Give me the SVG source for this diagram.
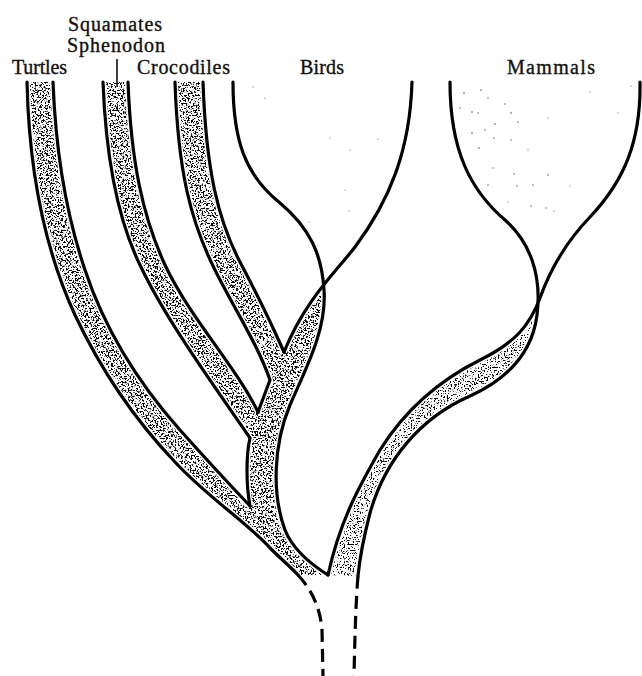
<svg xmlns="http://www.w3.org/2000/svg" width="642" height="676" viewBox="0 0 642 676">
<style>
  .lbl{font-family:"Liberation Serif","DejaVu Serif",serif;font-size:20px;fill:#111;stroke:#111;stroke-width:0.35;}
  .ln{fill:none;stroke:#000;stroke-width:3.2;stroke-linecap:round;stroke-linejoin:miter;}
  .halo{fill:none;stroke:#fff;stroke-width:6.2;stroke-linecap:butt;}
  .dash{fill:none;stroke:#000;stroke-width:3.2;stroke-dasharray:13 7;}
  .fd{fill:#555;}
</style>
<defs>
  <filter id="stip" filterUnits="userSpaceOnUse" x="0" y="0" width="642" height="676" color-interpolation-filters="sRGB">
    <feTurbulence type="fractalNoise" baseFrequency="0.6" numOctaves="2" seed="7" result="n"/>
    <feColorMatrix in="n" type="matrix" values="0 0 0 0 0  0 0 0 0 0  0 0 0 0 0  13 0 0 0 -6.7" result="d"/>
    <feComposite in="d" in2="SourceGraphic" operator="in"/>
  </filter>
  <filter id="stipL" filterUnits="userSpaceOnUse" x="0" y="0" width="642" height="676" color-interpolation-filters="sRGB">
    <feTurbulence type="fractalNoise" baseFrequency="0.7" numOctaves="2" seed="11" result="n"/>
    <feColorMatrix in="n" type="matrix" values="0 0 0 0 0  0 0 0 0 0  0 0 0 0 0  13 0 0 0 -7.3" result="d"/>
    <feComposite in="d" in2="SourceGraphic" operator="in"/>
  </filter>
  <path id="TL" d="M27,82 C29,170 45,250 75,315 C100,368 135,420 175,462 C205,495 250,525 270,548 C282,560 292,568 298,575"/>
  <path id="TR" d="M53,82 C56,160 68,220 85,270 C105,330 140,385 180,430 C205,458 230,485 250,506"/>
  <path id="SL" d="M103,82 C106,160 118,220 140,265 C165,318 210,380 250,438 C246,455 246,485 250,506"/>
  <path id="SR" d="M128,82 C131,160 142,215 165,265 C190,318 235,365 258,412"/>
  <path id="CL" d="M175,82 C178,170 190,220 215,270 C235,310 258,345 270,380 L258,412"/>
  <path id="CR" d="M203,82 C206,170 218,220 240,262 C258,296 272,325 284,352"/>
  <path id="BL" d="M233,82 C233,140 245,175 280,203 C310,228 322,255 324,290 C327,330 305,370 290,405 C273,445 272,495 285,530 C293,550 312,565 328,575"/>
  <path id="BR" d="M412,82 C410,150 390,200 355,247 C335,273 305,300 284,352"/>
  <path id="ML" d="M450,82 C450,150 470,190 505,220 C530,242 542,275 537,315 C532,355 505,380 470,396 C420,418 385,460 370,513 C363,540 360,555 358,576"/>
  <path id="MR" d="M640,82 C641,140 625,180 590,217 C565,243 550,270 540,298 C530,325 515,343 480,360 C440,380 405,410 380,450 C360,485 340,520 328,575"/>
</defs>

<rect width="642" height="676" fill="#fff"/>

<g id="shading">
  <path filter="url(#stip)" fill="#000" d="M27,82 C29,170 45,250 75,315 C100,368 135,420 175,462 C205,495 250,525 270,548 C282,560 292,568 298,575 L328,575 C312,565 293,550 285,530 C272,495 273,445 290,405 C305,370 327,330 324,290 L320,290 C307,306 294.5,326 284,352 C272,325 258,296 240,262 C218,220 206,170 203,82 L175,82 C178,170 190,220 215,270 C235,310 258,345 270,380 L258,412 C235,365 190,318 165,265 C142,215 131,160 128,82 L103,82 C106,160 118,220 140,265 C165,318 210,380 250,438 C246,455 246,485 250,506 C230,485 205,458 180,430 C140,385 105,330 85,270 C68,220 56,160 53,82 Z"/>
  <path filter="url(#stipL)" fill="#000" d="M328,575 C340,520 360,485 380,450 C405,410 440,380 480,360 C515,343 530,325 540,298 L537,315 C532,355 505,380 470,396 C420,418 385,460 370,513 C363,540 360,555 358,576 Z"/>
  <g class="fd">
    <circle cx="464" cy="93" r="0.8"/><circle cx="481" cy="90" r="0.8"/><circle cx="488" cy="98" r="0.7"/>
    <circle cx="460" cy="108" r="0.7"/><circle cx="472" cy="112" r="0.8"/><circle cx="478" cy="113" r="0.7"/>
    <circle cx="505" cy="104" r="0.7"/><circle cx="511" cy="113" r="0.8"/><circle cx="495" cy="124" r="0.8"/>
    <circle cx="485" cy="130" r="0.7"/><circle cx="472" cy="133" r="0.8"/><circle cx="518" cy="122" r="0.7"/>
    <circle cx="494" cy="138" r="0.7"/><circle cx="479" cy="148" r="0.8"/><circle cx="511" cy="140" r="0.7"/>
    <circle cx="493" cy="168" r="0.7"/><circle cx="514" cy="174" r="0.7"/><circle cx="517" cy="186" r="0.7"/>
    <circle cx="488" cy="185" r="0.7"/><circle cx="533" cy="185" r="0.7"/><circle cx="548" cy="175" r="0.8"/>
    <circle cx="531" cy="206" r="0.7"/><circle cx="546" cy="208" r="0.7"/><circle cx="554" cy="211" r="0.6"/>
    <circle cx="508" cy="202" r="0.6"/><circle cx="528" cy="150" r="0.6"/><circle cx="548" cy="118" r="0.6"/>
    <circle cx="590" cy="92" r="0.6"/><circle cx="618" cy="113" r="0.6"/><circle cx="631" cy="86" r="0.6"/>
    <circle cx="570" cy="186" r="0.6"/>
    <circle cx="253" cy="87" r="0.6"/><circle cx="265" cy="98" r="0.6"/><circle cx="330" cy="138" r="0.5"/>
    <circle cx="378" cy="139" r="0.5"/><circle cx="350" cy="150" r="0.5"/><circle cx="345" cy="190" r="0.5"/>
    <circle cx="309" cy="222" r="0.5"/><circle cx="349" cy="211" r="0.5"/>
  </g>
</g>

<g id="connectors">
  <g id="halos">
    <use href="#TL" class="halo"/><use href="#TR" class="halo"/>
    <use href="#SL" class="halo"/><use href="#SR" class="halo"/>
    <use href="#CL" class="halo"/><use href="#CR" class="halo"/>
    <use href="#BL" class="halo"/><use href="#BR" class="halo"/>
    <use href="#ML" class="halo"/><use href="#MR" class="halo"/>
  </g>
  <use href="#TL" class="ln"/><use href="#TR" class="ln"/>
  <use href="#SL" class="ln"/><use href="#SR" class="ln"/>
  <use href="#CL" class="ln"/><use href="#CR" class="ln"/>
  <use href="#BL" class="ln"/><use href="#BR" class="ln"/>
  <use href="#ML" class="ln"/><use href="#MR" class="ln"/>
  <path class="dash" d="M298,575 C310,588 320,605 322,630 L323,676"/>
  <path class="dash" d="M358,576 C356,600 355,630 354,676"/>
  <line x1="117" y1="59" x2="117" y2="86" stroke="#000" stroke-width="1.5"/>
</g>

<g id="turtles"><text class="lbl" x="12" y="74" textLength="55">Turtles</text></g>
<g id="squamates-sphenodon">
  <text class="lbl" x="68" y="31" textLength="94">Squamates</text>
  <text class="lbl" x="67" y="52" textLength="98">Sphenodon</text>
</g>
<g id="crocodiles"><text class="lbl" x="137" y="74" textLength="93">Crocodiles</text></g>
<g id="birds"><text class="lbl" x="300" y="74" textLength="44">Birds</text></g>
<g id="mammals"><text class="lbl" x="507" y="74" textLength="88">Mammals</text></g>
</svg>
